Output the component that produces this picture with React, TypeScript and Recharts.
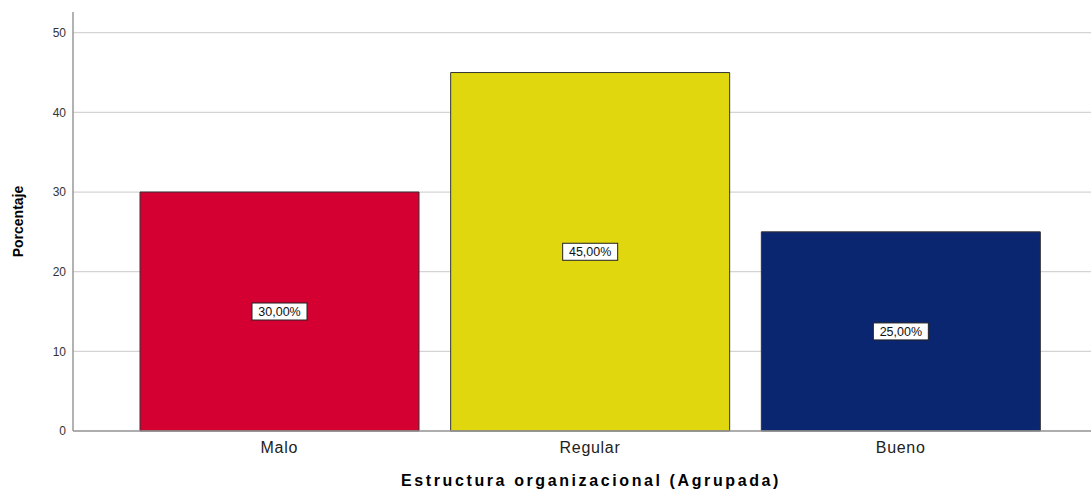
import React from 'react';
import { BarChart, Bar, Cell, XAxis, YAxis, CartesianGrid, LabelList } from 'recharts';

const categories = ['Malo', 'Regular', 'Bueno'];
const percentages = [30, 45, 25];
const barColors = ['#D50032', '#E1D70E', '#0B2670'];
const yTicks = [0, 10, 20, 30, 40, 50];

const data = categories.map((name, i) => ({ name, value: percentages[i] }));

const BoxLabel = (props: any) => {
  const { x, y, width, height, value } = props;
  const cx = x + width / 2;
  const cy = y + height / 2;
  const text = `${Number(value).toFixed(2).replace('.', ',')}%`;
  const w = 55;
  const h = 17;
  return (
    <g>
      <rect x={cx - w / 2} y={cy - h / 2} width={w} height={h} fill="#fff" stroke="#222" strokeWidth={1} />
      <text x={cx} y={cy + 4.5} textAnchor="middle" fontSize={12.5} fill="#111" fontFamily="Liberation Sans, Arial, sans-serif">
        {text}
      </text>
    </g>
  );
};

const App: React.FC = () => {
  return (
    <div style={{ position: 'absolute', left: 0, top: 0, background: '#fff' }}>
      <BarChart
        width={1091}
        height={491}
        data={data}
        margin={{ top: 12, right: 0, bottom: 0, left: 0 }}
        barCategoryGap={16}
        style={{ fontFamily: 'Liberation Sans, Arial, sans-serif' }}
      >
        <CartesianGrid vertical={false} stroke="#d4d4d4" strokeWidth={1.2} syncWithTicks />
        <XAxis
          dataKey="name"
          height={60}
          padding={{ left: 51, right: 35 }}
          tickLine={false}
          axisLine={{ stroke: '#999', strokeWidth: 1.5 }}
          tick={{ fontSize: 16, fill: '#222', letterSpacing: 0.7 }}
          tickMargin={5}
          label={{ value: 'Estructura organizacional (Agrupada)', position: 'insideBottom', offset: 5, dx: 9, fontSize: 16, fontWeight: 'bold', fill: '#000', letterSpacing: 2.6 }}
        />
        <YAxis
          width={73}
          domain={[0, 52.6]}
          ticks={yTicks}
          tickLine={false}
          axisLine={{ stroke: '#999', strokeWidth: 1.5 }}
          tick={{ fontSize: 12, fill: '#333' }}
          tickMargin={1}
          label={{ value: 'Porcentaje', angle: -90, position: 'insideLeft', offset: 18, fontSize: 14, fontWeight: 'bold', fill: '#000', style: { textAnchor: 'middle' } }}
        />
        <Bar dataKey="value" stroke="#333" strokeWidth={1} isAnimationActive={false}>
          {data.map((entry, index) => (
            <Cell key={`cell-${index}`} fill={barColors[index]} />
          ))}
          <LabelList dataKey="value" content={BoxLabel} />
        </Bar>
      </BarChart>
    </div>
  );
};

export default App;
